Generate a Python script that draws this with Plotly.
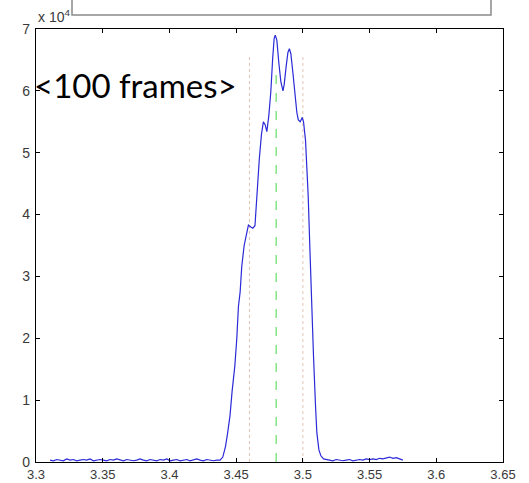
import numpy as np
import plotly.graph_objects as go

# ---- data (x in units of the axis, y in units of 10^4) ----
base_left_x = np.round(np.arange(3.3105, 3.4370, 0.0025), 4)
base_left_y = [0.03, 0.02, 0.04, 0.03, 0.02, 0.05, 0.03, 0.04, 0.02, 0.03,
               0.04, 0.03, 0.05, 0.02, 0.03, 0.04, 0.03, 0.02, 0.04, 0.03,
               0.05, 0.03, 0.02, 0.04, 0.03, 0.02, 0.03, 0.05, 0.03, 0.02,
               0.04, 0.03, 0.02, 0.04, 0.03, 0.05, 0.02, 0.03, 0.04, 0.02,
               0.03, 0.04, 0.02, 0.03, 0.05, 0.03, 0.02, 0.04, 0.03, 0.02,
               0.03]

peak_x = [3.438, 3.440, 3.442, 3.4435, 3.4454, 3.447, 3.449, 3.4505, 3.4517, 3.453,
          3.4542, 3.456, 3.458, 3.4592, 3.461, 3.4625, 3.4641, 3.4655, 3.4674, 3.469,
          3.4704, 3.4718, 3.473, 3.4745, 3.476, 3.4774, 3.4785, 3.4793, 3.4805, 3.482,
          3.4835, 3.4851, 3.486, 3.4875, 3.4888, 3.4899, 3.491, 3.4925, 3.494, 3.4955,
          3.4966, 3.498, 3.4995, 3.5005, 3.502, 3.504, 3.5055, 3.5066, 3.508, 3.5095,
          3.5105, 3.512, 3.5135, 3.5155]
peak_y = [0.03, 0.08, 0.25, 0.45, 0.75, 1.15, 1.55, 2.0, 2.51, 2.75,
          3.16, 3.50, 3.75, 3.83, 3.80, 3.78, 3.82, 4.30, 4.91, 5.30,
          5.50, 5.45, 5.34, 5.60, 5.99, 6.53, 6.85, 6.90, 6.82, 6.45,
          6.15, 6.00, 6.10, 6.40, 6.62, 6.68, 6.60, 6.30, 5.95, 5.65,
          5.53, 5.50, 5.57, 5.50, 5.20, 4.30, 3.30, 2.51, 1.70, 0.90,
          0.47, 0.20, 0.10, 0.05]

base_right_x = np.round(np.arange(3.5175, 3.5770, 0.0025), 4)
base_right_y = [0.04, 0.03, 0.02, 0.04, 0.03, 0.02, 0.03, 0.04, 0.02, 0.03,
                0.04, 0.03, 0.05, 0.04, 0.05, 0.04, 0.06, 0.05, 0.07, 0.08,
                0.06, 0.07, 0.05, 0.03]

x_vals = list(base_left_x) + peak_x + list(base_right_x)
y_vals = base_left_y + peak_y + base_right_y

dotted_x = [3.46, 3.50]
dotted_top = 6.55
dashed_x = 3.48
dashed_top = 6.3

x_ticks = [3.3, 3.35, 3.4, 3.45, 3.5, 3.55, 3.6, 3.65]
x_tick_text = ["3.3", "3.35", "3.4", "3.45", "3.5", "3.55", "3.6", "3.65"]
y_ticks = [0, 1, 2, 3, 4, 5, 6, 7]

fig = go.Figure()

for dx in dotted_x:
    fig.add_trace(go.Scatter(x=[dx, dx], y=[0, dotted_top], mode="lines",
                             line=dict(color="#e6c2b4", width=1, dash="dot"),
                             showlegend=False, hoverinfo="skip"))
fig.add_trace(go.Scatter(x=[dashed_x, dashed_x], y=[0, dashed_top], mode="lines",
                         line=dict(color="#66dd66", width=1.2, dash="dash"),
                         showlegend=False, hoverinfo="skip"))
fig.add_trace(go.Scatter(x=x_vals, y=y_vals, mode="lines",
                         line=dict(color="#2a2ad8", width=1.2),
                         showlegend=False))

axis_common = dict(showgrid=False, zeroline=False, showline=True, linecolor="black",
                   linewidth=1.2, ticks="inside", ticklen=4, tickcolor="black",
                   mirror="ticks", automargin=False)

fig.update_xaxes(range=[3.3, 3.65], tickvals=x_ticks, ticktext=x_tick_text,
                 ticklabelstandoff=0,
                 tickfont=dict(family="Liberation Sans, Arial", size=13, color="#3a3a3a"),
                 **axis_common)
fig.update_yaxes(range=[0, 7], tickvals=y_ticks, ticklabelstandoff=2,
                 tickfont=dict(family="Liberation Sans, Arial", size=14, color="#3a3a3a"),
                 **axis_common)

fig.add_annotation(xref="paper", yref="paper", x=0, y=1.03, xanchor="left", yanchor="middle",
                   text="x 10<sup>4</sup>", showarrow=False,
                   font=dict(family="Liberation Sans, Arial", size=14, color="#3a3a3a"))
fig.add_annotation(xref="paper", yref="paper", x=-0.0086, y=0.87, xanchor="left", yanchor="middle",
                   text="&lt;100 frames&gt;", showarrow=False,
                   font=dict(family="Lato", size=33, color="black"))

fig.add_shape(type="rect", xref="paper", yref="paper", x0=0.0771, x1=0.9743, y0=1.0323, y1=1.09,
              line=dict(color="#8a8a8a", width=1.5), fillcolor="rgba(0,0,0,0)")

fig.update_layout(width=529, height=483, margin=dict(l=36, r=26, t=29, b=21, pad=0),
                  plot_bgcolor="white", paper_bgcolor="white")

fig.write_html("out.html")
